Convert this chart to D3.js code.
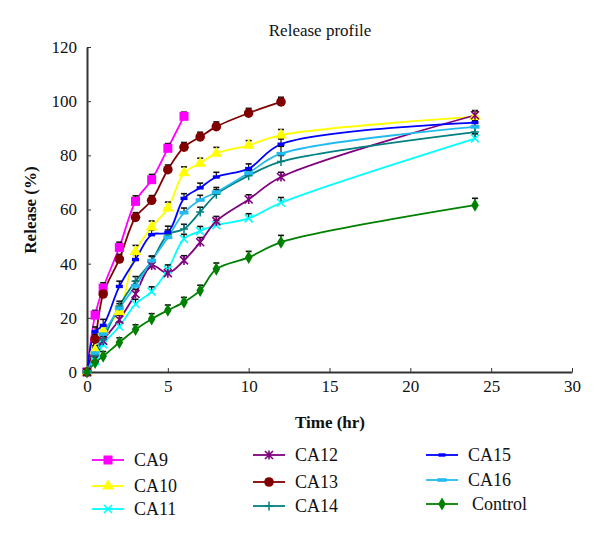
<!DOCTYPE html>
<html>
<head>
<meta charset="utf-8">
<script src="https://cdn.jsdelivr.net/npm/d3@7"></script>
<style>
  body { margin: 0; background: #fff; }
  svg text { font-family: "Liberation Serif", serif; fill: #111; }
  .axes path, .axes line { stroke: #333; }
</style>
</head>
<body>
<script>
// sampling times (hr)
const times = [0, 0.5, 1, 2, 3, 4, 5, 6, 7, 8, 10, 12, 24];

// release (%) per formulation
const ca9 = [0, 21, 31, 46, 63, 71, 82.6, 94.4];
const ca10 = [0, 8, 15.2, 22.3, 44.5, 53.5, 60.5, 73.5, 77, 80.7, 83.7, 87.5, 94.3];
const ca11 = [0, 4, 10.2, 16.8, 25.1, 29.7, 37.8, 49.1, 52, 54.2, 56.7, 62.5, 86.2];
const ca12 = [0, 5, 11.5, 19.3, 28.8, 39.3, 36.5, 41.2, 47.9, 55.7, 63.7, 72, 94.8];
const ca13 = [0, 12.1, 28.8, 41.7, 57.1, 63.4, 74.7, 83, 86.8, 90.6, 95.6, 99.7];
const ca14 = [0, 6, 12, 24.4, 33.5, 40.9, 50.7, 52.8, 59.1, 65.6, 72.5, 77.7, 88.6];
const ca15 = [0, 14.9, 17.2, 31.6, 41.5, 50.7, 51.6, 64.1, 68, 72, 75.1, 84.1, 92.1];
const ca16 = [0, 7, 14, 23.5, 31.8, 41.1, 49.7, 58.8, 63.5, 66.4, 73.5, 80.6, 90.5];
const control = [0, 3.5, 5.8, 10.9, 15.7, 19.6, 22.8, 25.8, 30.1, 38, 42.3, 47.9, 61.6];

// error bar heights (%)
const ca9Err = [0, 1, 1.2, 1.2, 1.3, 1.2, 1, 0.8];
const ca10Err = [0, 1, 1, 1, 1.5, 1.5, 1.5, 1.5, 1.2, 1.5, 1, 1.3, 1];
const ca11Err = [0, 0.8, 1, 1, 1, 1, 1, 1, 1, 1, 1, 1.2, 1];
const ca12Err = [0, 1, 1, 1, 1, 1, 1, 1, 1, 1, 1, 1, 1];
const ca13Err = [0, 1, 1, 1, 1, 1, 1, 1, 1, 1, 1, 1];
const ca14Err = [0, 1, 1, 1, 1, 1, 1, 1, 1, 1, 1, 1.5, 1.5];
const ca15Err = [0, 1, 1.5, 1.2, 1.2, 1, 1.5, 1, 1, 1, 1, 1.2, 1];
const ca16Err = [0, 1, 1, 1, 1, 1, 1, 1, 1, 1, 1, 2, 1.5];
const controlErr = [0, 1, 1, 1, 1, 1.2, 1.2, 1, 1.2, 1.5, 1.5, 1.8, 1.8];

const names = ["CA9", "CA10", "CA11", "CA12", "CA13", "CA14", "CA15", "CA16", "Control"];
const colors = ["#ff00ff", "#ffff00", "#00ffff", "#800080", "#800000", "#008080", "#0000ff", "#22bbf0", "#008000"];
const markers = ["square", "triangle", "x", "star", "circle", "plus", "dash", "wdash", "diamond"];
const values = [ca9, ca10, ca11, ca12, ca13, ca14, ca15, ca16, control];
const errors = [ca9Err, ca10Err, ca11Err, ca12Err, ca13Err, ca14Err, ca15Err, ca16Err, controlErr];

const xTicks = [0, 5, 10, 15, 20, 25, 30];
const yTicks = [0, 20, 40, 60, 80, 100, 120];

const serif = "Liberation Serif";

const width = 600, height = 539,
      svg = d3.select("body").append("svg")
        .attr("width", width).attr("height", height)
        .attr("font-family", serif),
      xScale = d3.scaleLinear().domain([0, 30]).range([87, 572]),
      yScale = d3.scaleLinear().domain([0, 120]).range([372, 47]);

const series = names.map((n, i) => ({
  name: n, color: colors[i], marker: markers[i],
  points: values[i].map((v, j) => ({t: times[j], v: v, e: errors[i][j]}))
}));

function drawMarker(g, type, color) {
  if (type === "square") {
    g.append("rect").attr("x", -4.5).attr("y", -4.5).attr("width", 9).attr("height", 9).attr("fill", color);
  } else if (type === "triangle") {
    g.append("path").attr("d", d3.symbol(d3.symbolTriangle, 60)()).attr("fill", color);
  } else if (type === "diamond") {
    g.append("path").attr("d", d3.symbol(d3.symbolDiamond, 50)()).attr("fill", color);
  } else if (type === "circle") {
    g.append("circle").attr("r", 4.8).attr("fill", color);
  } else if (type === "x" || type === "star") {
    g.append("path").attr("d", "M-4,-4L4,4M-4,4L4,-4" + (type === "star" ? "M0,-4.5L0,4.5" : ""))
      .attr("stroke", color).attr("stroke-width", 1.6).attr("fill", "none");
  } else if (type === "plus") {
    g.append("path").attr("d", "M-4,0L4,0M0,-4.5L0,4.5")
      .attr("stroke", color).attr("stroke-width", 1.5).attr("fill", "none");
  } else if (type === "dash") {
    g.append("rect").attr("x", -3.5).attr("y", -1.7).attr("width", 7).attr("height", 3.4).attr("fill", color);
  } else if (type === "wdash") {
    g.append("rect").attr("x", -4.5).attr("y", -1.8).attr("width", 9).attr("height", 3.6).attr("fill", color);
  }
}

// axes
const xAxis = d3.axisBottom(xScale).tickValues(xTicks).tickSizeInner(-4).tickSizeOuter(0).tickPadding(8);
const yAxis = d3.axisLeft(yScale).tickValues(yTicks).tickSizeInner(-4).tickSizeOuter(0).tickPadding(10);

svg.append("g").attr("transform", "translate(0," + yScale(0) + ")")
  .call(xAxis).classed("axes", true)
  .attr("font-family", serif).attr("font-size", 17)
  .call(g => g.select(".domain").attr("stroke-width", 2));

svg.append("g").attr("transform", "translate(" + xScale(0) + ",0)")
  .call(yAxis).classed("axes", true)
  .attr("font-family", serif).attr("font-size", 17)
  .call(g => g.select(".domain").attr("stroke-width", 2));

svg.selectAll(".tick text").attr("font-family", serif);

// lines
const line = d3.line().x(d => xScale(d.t)).y(d => yScale(d.v)).curve(d3.curveCatmullRom.alpha(0.5));

svg.append("g").selectAll("path").data(series).enter()
  .append("path")
  .attr("d", d => line(d.points))
  .attr("fill", "none")
  .attr("stroke", d => d.color)
  .attr("stroke-width", 1.8);

// error bars
series.forEach(s => {
  const eg = svg.append("g");
  s.points.filter(p => p.e > 0).forEach(p => {
    const x = xScale(p.t), y0 = yScale(p.v), y1 = yScale(p.v + p.e) - 2;
    eg.append("line").attr("x1", x).attr("x2", x).attr("y1", y0).attr("y2", y1)
      .attr("stroke", "#111").attr("stroke-width", 1.2);
    eg.append("line").attr("x1", x - 3).attr("x2", x + 3).attr("y1", y1).attr("y2", y1)
      .attr("stroke", "#111").attr("stroke-width", 1.6);
  });
});

// markers
series.forEach(s => {
  svg.append("g").selectAll("g").data(s.points).enter()
    .append("g")
    .attr("transform", d => "translate(" + xScale(d.t) + "," + yScale(d.v) + ")")
    .each(function () { drawMarker(d3.select(this), s.marker, s.color); });
});

// titles
svg.append("text").attr("x", 320).attr("y", 36).attr("text-anchor", "middle")
  .attr("font-family", serif).attr("font-size", 17).text("Release profile");
svg.append("text").attr("x", 330).attr("y", 428).attr("text-anchor", "middle")
  .attr("font-family", serif).attr("font-size", 17).attr("font-weight", "bold").text("Time (hr)");
svg.append("text").attr("transform", "translate(36,210) rotate(-90)").attr("text-anchor", "middle")
  .attr("font-family", serif).attr("font-size", 17).attr("font-weight", "bold").text("Release (%)");

// legend: three columns
const legendPos = [
  [92, 460], [92, 486], [92, 509],
  [253, 455], [253, 482], [253, 506],
  [426, 455], [426, 480], [426, 504]
];
const legend = svg.append("g").selectAll("g").data(series).enter()
  .append("g")
  .attr("transform", (d, i) => "translate(" + legendPos[i][0] + "," + legendPos[i][1] + ")");
legend.append("line").attr("x1", 0).attr("x2", 32)
  .attr("stroke", d => d.color).attr("stroke-width", 1.8);
legend.append("g").attr("transform", "translate(16,0)")
  .each(function (d) { drawMarker(d3.select(this), d.marker, d.color); });
legend.append("text").attr("x", (d, i) => i === 8 ? 46 : 42).attr("y", 6)
  .attr("font-family", serif).attr("font-size", 18).text(d => d.name);
</script>
</body>
</html>
